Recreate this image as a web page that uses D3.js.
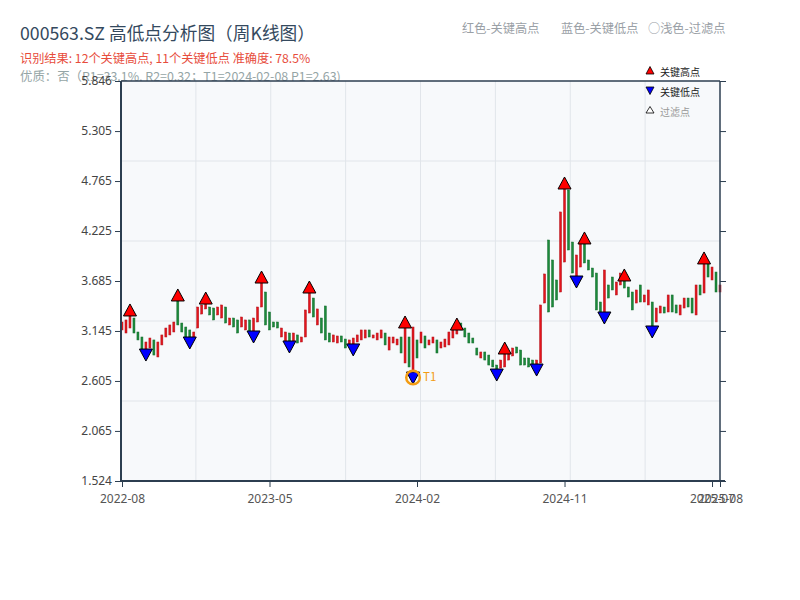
<!DOCTYPE html>
<html><head><meta charset="utf-8">
<script src="https://cdn.jsdelivr.net/npm/d3@7"></script>
<style>body{margin:0;background:#fff;} svg{font-family:"Noto Sans CJK SC","Noto Sans",sans-serif;}</style>
</head><body><svg id="c" width="800" height="600"></svg>
<script>
// weekly candles (open / close), index 0 .. 150
const openVals = [3.156,3.123,3.177,3.285,3.134,3.080,2.939,2.961,3.048,2.864,
2.994,3.080,3.102,3.134,3.480,3.231,3.188,3.156,3.048,3.177,
3.328,3.383,3.404,3.393,3.318,3.285,3.404,3.210,3.285,3.264,
3.188,3.156,3.264,3.134,3.242,3.404,3.566,3.350,3.242,3.242,
3.080,3.026,3.123,3.026,3.102,3.026,3.080,3.339,3.501,3.210,
3.285,3.415,3.123,3.026,3.015,3.091,3.058,2.994,2.994,3.026,
3.048,3.069,3.156,3.069,3.048,3.069,3.123,2.939,3.015,2.994,
3.080,2.799,3.080,2.691,3.048,3.015,3.091,2.994,3.015,3.048,
2.961,2.972,2.994,3.069,3.112,3.231,3.177,3.123,3.069,2.961,
2.853,2.918,2.885,2.831,2.777,2.745,2.756,2.831,2.875,2.972,
2.939,2.853,2.853,2.831,2.777,2.799,3.447,4.128,3.912,3.696,
3.566,3.890,4.668,4.106,3.728,3.836,4.096,3.912,3.825,3.771,
3.458,3.339,3.642,3.728,3.534,3.642,3.696,3.620,3.566,3.447,
3.642,3.458,3.426,3.458,3.242,3.339,3.404,3.350,3.534,3.426,
3.318,3.393,3.501,3.501,3.318,3.642,3.555,3.880,3.696,3.782,
3.566];
const closeVals = [3.242,3.264,3.318,3.123,3.048,2.939,3.026,3.069,2.885,3.026,
3.102,3.177,3.210,3.242,3.210,3.134,3.069,3.069,3.134,3.404,
3.426,3.447,3.318,3.264,3.404,3.426,3.231,3.285,3.188,3.123,
3.296,3.264,3.123,3.285,3.404,3.674,3.210,3.156,3.188,3.177,
3.177,3.134,3.026,3.123,3.015,3.080,3.372,3.566,3.296,3.383,
3.123,3.048,3.026,3.102,3.091,3.026,2.961,3.048,3.069,3.102,
3.156,3.156,3.080,3.102,3.123,3.156,2.994,3.080,3.080,3.058,
2.907,3.188,2.756,3.188,2.853,3.134,2.961,3.048,3.080,2.907,
3.026,3.058,3.134,3.177,3.166,3.156,3.080,3.015,3.015,2.885,
2.918,2.831,2.777,2.756,2.723,2.831,2.907,2.918,2.961,2.907,
2.777,2.777,2.756,2.777,2.831,3.426,3.761,3.350,3.404,3.480,
4.431,4.690,4.020,3.771,3.966,4.096,3.880,3.804,3.728,3.372,
3.339,3.804,3.501,3.588,3.674,3.771,3.609,3.512,3.372,3.588,
3.458,3.534,3.588,3.188,3.393,3.415,3.339,3.534,3.350,3.339,
3.426,3.501,3.404,3.339,3.642,3.534,3.880,3.728,3.836,3.566,
3.642];
const highIdx = [2,14,21,35,47,71,84,96,111,116,126,146];
const lowIdx  = [6,17,33,42,58,73,94,104,114,121,133];
const t1Idx = 73;
const yTicks = [1.524,2.065,2.605,3.145,3.685,4.225,4.765,5.305,5.846];
const xTickIdx = [0,37,74,111,148,150];
const xTickLabels = ["2022-08","2023-05","2024-02","2024-11","2025-07","2025-08"];

const L = 121, R = 720, T = 81, B = 481;
const svg = d3.select("#c");
const x = d3.scaleLinear().domain([0, openVals.length - 1]).range([122, 720]);
const y = d3.scaleLinear().domain([yTicks[0], yTicks[yTicks.length - 1]]).range([B, T]);

// titles
svg.append("text").attr("x", 20).attr("y", 40).attr("font-size", 17.7).attr("fill", "#34495e")
  .text("000563.SZ 高低点分析图（周K线图）");
svg.append("text").attr("x", 20).attr("y", 63).attr("font-size", 12.2).attr("fill", "#e74c3c")
  .text("识别结果: 12个关键高点, 11个关键低点  准确度: 78.5%");
svg.append("text").attr("x", 20).attr("y", 81).attr("font-size", 12.4).attr("fill", "#95a5a6")
  .text("优质：否（R1=33.1%, R2=0.32；T1=2024-02-08 P1=2.63)");
[["红色-关键高点", 462], ["蓝色-关键低点", 561], ["○浅色-过滤点", 648]].forEach(d => {
  svg.append("text").attr("x", d[1]).attr("y", 33).attr("font-size", 12.2).attr("fill", "#9aa0a6").text(d[0]);
});

// plot background & grid
svg.append("rect").attr("x", L).attr("y", T).attr("width", R - L).attr("height", B - T).attr("fill", "#f7f9fb");
const g = svg.append("g");
d3.range(1, 8).forEach(k => {
  const xx = L + (R - L) * k / 8;
  g.append("line").attr("x1", xx).attr("x2", xx).attr("y1", T).attr("y2", B).attr("stroke", "#e1e5ea").attr("stroke-width", 1);
});
d3.range(1, 5).forEach(k => {
  const yy = T + (B - T) * k / 5;
  g.append("line").attr("x1", L).attr("x2", R).attr("y1", yy).attr("y2", yy).attr("stroke", "#e1e5ea").attr("stroke-width", 1);
});

// candles
const candles = openVals.map((o, i) => ({ i, o, c: closeVals[i] }));
svg.append("g").selectAll("rect").data(candles).join("rect")
  .attr("x", d => x(d.i) - 1)
  .attr("width", 2)
  .attr("y", d => y(Math.max(d.o, d.c)))
  .attr("height", d => Math.max(1, y(Math.min(d.o, d.c)) - y(Math.max(d.o, d.c))))
  .attr("fill", d => d.c >= d.o ? "#e3141c" : "#1b8a3a")
  .attr("stroke", d => d.c >= d.o ? "#b0121a" : "#136b2c")
  .attr("stroke-width", 0.5);

// markers
const mk = svg.append("g");
highIdx.forEach(i => {
  const cx = x(i), top = y(Math.max(openVals[i], closeVals[i]));
  mk.append("path").attr("d", `M${cx},${top - 11}L${cx + 6.5},${top + 1}L${cx - 6.5},${top + 1}Z`)
    .attr("fill", "#ff0000").attr("stroke", "#000").attr("stroke-width", 1);
});
lowIdx.forEach(i => {
  const cx = x(i), bot = y(Math.min(openVals[i], closeVals[i]));
  mk.append("path").attr("d", `M${cx - 6.5},${bot - 1}L${cx + 6.5},${bot - 1}L${cx},${bot + 11}Z`)
    .attr("fill", "#0000ff").attr("stroke", "#000").attr("stroke-width", 1);
});
// T1
{
  const cx = x(t1Idx), bot = y(Math.min(openVals[t1Idx], closeVals[t1Idx]));
  mk.append("circle").attr("cx", cx).attr("cy", bot + 4.5).attr("r", 6.8)
    .attr("fill", "none").attr("stroke", "#f39c12").attr("stroke-width", 2.5);
  mk.append("text").attr("x", cx + 10).attr("y", bot + 8.5).attr("font-size", 11.5).attr("fill", "#f39c12").text("T1");
}

// axes
const axisColor = "#2c3e50";
const yAxis = svg.append("g").attr("transform", `translate(${L},0)`)
  .call(d3.axisLeft(y).tickValues(yTicks).tickFormat(d3.format(".3f")).tickSizeOuter(0));
yAxis.select(".domain").remove();
yAxis.selectAll("line").attr("stroke", axisColor);
yAxis.selectAll("text").attr("font-size", 12).attr("fill", "#444").attr("font-family", "Noto Sans, sans-serif");

const yAxisR = svg.append("g").attr("transform", `translate(${R},0)`)
  .call(d3.axisRight(y).tickValues(yTicks).tickFormat("").tickSizeOuter(0));
yAxisR.select(".domain").remove();
yAxisR.selectAll("line").attr("stroke", axisColor);

const xAxis = svg.append("g").attr("transform", `translate(0,${B})`)
  .call(d3.axisBottom(x).tickValues(xTickIdx).tickFormat((d, k) => xTickLabels[k]).tickSizeOuter(0));
xAxis.select(".domain").remove();
xAxis.selectAll("line").attr("stroke", axisColor);
xAxis.selectAll("text").attr("font-size", 12).attr("fill", "#555").attr("dy", "1.05em").attr("font-family", "Noto Sans, sans-serif");

// frame
svg.append("line").attr("x1", L).attr("x2", L).attr("y1", T).attr("y2", B + 1).attr("stroke", axisColor).attr("stroke-width", 2);
svg.append("line").attr("x1", L - 1).attr("x2", 725).attr("y1", B).attr("y2", B).attr("stroke", axisColor).attr("stroke-width", 2);
svg.append("line").attr("x1", L).attr("x2", R).attr("y1", T).attr("y2", T).attr("stroke", axisColor).attr("stroke-width", 1.5);
svg.append("line").attr("x1", R).attr("x2", R).attr("y1", T).attr("y2", B).attr("stroke", axisColor).attr("stroke-width", 1.5);

// in-chart legend
const lg = svg.append("g");
lg.append("path").attr("d", "M650,66.5L654,74L646,74Z").attr("fill", "#ff0000").attr("stroke", "#000").attr("stroke-width", 0.8);
lg.append("text").attr("x", 660).attr("y", 75.5).attr("font-size", 10).attr("fill", "#222").text("关键高点");
lg.append("path").attr("d", "M646,87L654,87L650,94.5Z").attr("fill", "#0000ff").attr("stroke", "#000").attr("stroke-width", 0.8);
lg.append("text").attr("x", 660).attr("y", 95.5).attr("font-size", 10).attr("fill", "#222").text("关键低点");
lg.append("path").attr("d", "M650,106.5L654,113L646,113Z").attr("fill", "#fff").attr("stroke", "#000").attr("stroke-width", 0.8);
lg.append("text").attr("x", 660).attr("y", 115.5).attr("font-size", 10).attr("fill", "#999").text("过滤点");
</script></body></html>
